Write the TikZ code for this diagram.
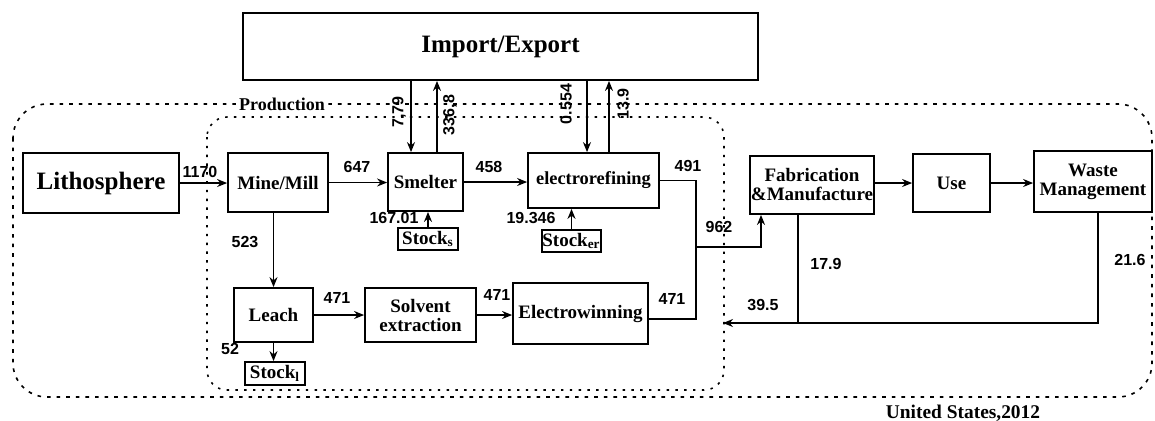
\documentclass[tikz,border=0pt]{standalone}
\usepackage{fontspec}
\setmainfont{Liberation Serif}
\newfontfamily\numfont{Liberation Sans}
\usetikzlibrary{arrows.meta,calc}
\tikzset{
  box/.style={draw, line width=0.9pt, inner sep=0pt, align=center,
    font=\bfseries\fontsize{9.5}{9.5}\selectfont},
  num/.style={font=\numfont\bfseries\fontsize{8}{9}\selectfont, inner sep=0pt},
  arr/.style={line width=0.7pt, -{Stealth[length=5pt,width=4pt]}},
  ln/.style={line width=0.7pt},
  outerdot/.style={line width=0.8pt, dash pattern=on 1.8pt off 3pt, rounded corners=17pt},
  innerdot/.style={line width=0.8pt, dash pattern=on 1.2pt off 3.2pt, rounded corners=10pt}
}
\begin{document}
\begin{tikzpicture}[x=0.5pt,y=-0.5pt]
\useasboundingbox (0,0) rectangle (1155,420);
% dotted regions
\draw[outerdot] (13,104) rectangle (1152,397);
\draw[innerdot] (207,117) rectangle (724,390);
\node[fill=white, inner sep=1pt, font=\bfseries\fontsize{9}{10}\selectfont] (prod) at (282,104) {Production};
% boxes
\node[box, minimum width=257.5pt, minimum height=33.5pt, font=\bfseries\fontsize{12.5}{14}\selectfont] (imp) at (500.5,46.5) {\raisebox{-3pt}{Import/Export}};
\node[box, minimum width=78pt, minimum height=30pt, font=\bfseries\fontsize{12.5}{14}\selectfont] (litho) at (101,183) {Lithosphere};
\node[box, minimum width=50pt, minimum height=29.5pt] (mine) at (278,182.5) {Mine/Mill};
\node[box, minimum width=37.5pt, minimum height=29pt] (smelt) at (425.5,182) {Smelter};
\node[box, minimum width=65.5pt, minimum height=27.5pt, font=\bfseries\fontsize{9.2}{10}\selectfont] (elref) at (593.5,180.5) {electrorefining};
\node[box, minimum width=30pt, minimum height=11pt] (stocks) at (428,239) {Stock\textsubscript{s}};
\node[box, minimum width=29.5pt, minimum height=11pt] (stocker) at (571.5,241) {Stock\textsubscript{er}};
\node[box, minimum width=39.5pt, minimum height=27pt] (leach) at (273.5,315) {Leach};
\node[box, minimum width=55.5pt, minimum height=27pt] (solv) at (420.5,315) {Solvent\\extraction};
\node[box, minimum width=67.5pt, minimum height=30.5pt] (elwin) at (580.5,313.5) {Electrowinning};
\node[box, minimum width=30pt, minimum height=11.5pt] (stockl) at (275,373.5) {Stock\textsubscript{l}};
\node[box, minimum width=62pt, minimum height=29pt] (fab) at (812,185) {Fabrication\\\&Manufacture};
\node[box, minimum width=38.5pt, minimum height=29pt] (use) at (951.5,183) {Use};
\node[box, minimum width=59pt, minimum height=30.5pt] (waste) at (1093,181.5) {Waste\\Management};
% helper coordinates
\coordinate (a1) at (411,0);
\coordinate (a2) at (437,0);
\coordinate (a3) at (587,0);
\coordinate (a4) at (609,0);
\coordinate (j1) at (696,319);
\coordinate (j2) at (696,247);
\coordinate (f1) at (761,0);
\coordinate (f2) at (798,0);
\coordinate (w1) at (1098,0);
\coordinate (r1) at (723,323);
% connectors
\draw[arr] (litho.east) -- (litho.east -| mine.west);
\draw[arr] (mine.east) -- (mine.east -| smelt.west);
\draw[arr] (smelt.east) -- (smelt.east -| elref.west);
\draw[arr] (leach.north |- mine.south) -- (leach.north);
\draw[arr] (leach.south) -- (leach.south |- stockl.north);
\draw[arr] (leach.east) -- (leach.east -| solv.west);
\draw[arr] (solv.east) -- (solv.east -| elwin.west);
\draw[arr] (stocks.north) -- (stocks.north |- smelt.south);
\draw[arr] (stocker.north) -- (stocker.north |- elref.south);
\draw[arr] (imp.south -| a1) -- (smelt.north -| a1);
\draw[arr] (smelt.north -| a2) -- (imp.south -| a2);
\draw[arr] (imp.south -| a3) -- (elref.north -| a3);
\draw[arr] (elref.north -| a4) -- (imp.south -| a4);
\draw[ln] (elref.east) -| (j1) -- (j1 -| elwin.east);
\draw[arr] (j2) -| (fab.south -| f1);
\draw[arr] (fab.east |- use.west) -- (use.west);
\draw[arr] (use.east) -- (use.east -| waste.west);
\draw[ln] (fab.south -| f2) -- (f2 |- r1);
\draw[arr] (waste.south -| w1) |- (r1);
% labels
\node[num] (l1170) at (200,172) {1170};
\node[num] (l647) at (357,167) {647};
\node[num] (l458) at (489,167) {458};
\node[num] (l491) at (688,166) {491};
\node[num] (l523) at (245,242) {523};
\node[num] (l16701) at (394,218) {167.01};
\node[num] (l19346) at (531,218) {19.346};
\node[num, rotate=90] (l779) at (399,112) {7,79};
\node[num, rotate=90] (l3368) at (450,115) {336,8};
\node[num, rotate=90] (l0554) at (566,104) {0.554};
\node[num, rotate=90] (l139) at (623,104) {13.9};
\node[num] (l471a) at (337,298) {471};
\node[num] (l471b) at (497,295) {471};
\node[num] (l471c) at (672,299) {471};
\node[num] (l52) at (230,349) {52};
\node[num] (l962) at (719,227) {962};
\node[num] (l179) at (826,264) {17.9};
\node[num] (l216) at (1130,260) {21.6};
\node[num] (l395) at (763,305) {39.5};
\node[font=\bfseries\fontsize{9.7}{10}\selectfont, inner sep=0pt] (us) at (963,413) {United States,2012};
\end{tikzpicture}
\end{document}
